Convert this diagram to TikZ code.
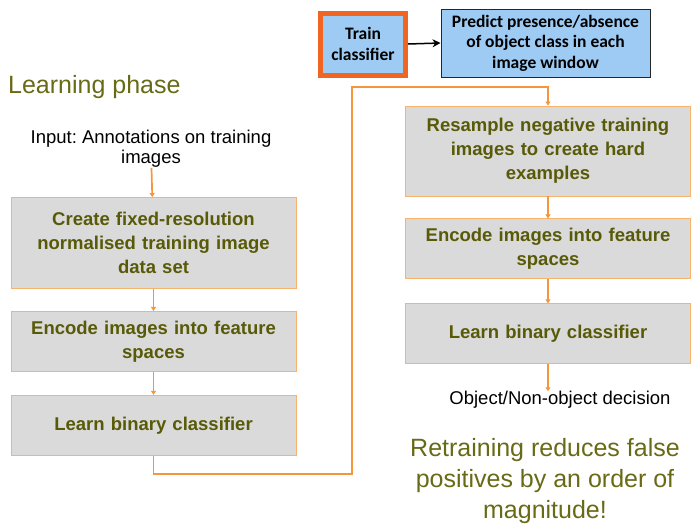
\documentclass[tikz,border=0pt]{standalone}
\usepackage{fontspec}
\setmainfont{Liberation Sans}
\newfontfamily\calibrifont{Carlito}
\usepackage{xcolor}
\usetikzlibrary{positioning, arrows.meta, calc}

\definecolor{oliveText}{RGB}{88,90,8}
\definecolor{oliveHead}{RGB}{104,106,22}
\definecolor{flowOrange}{RGB}{246,150,60}
\definecolor{boxOrange}{RGB}{247,178,110}
\definecolor{hotOrange}{RGB}{241,101,34}
\definecolor{skyFill}{RGB}{157,203,244}
\definecolor{stepGray}{RGB}{218,218,218}

\frenchspacing
\begin{document}
\begin{tikzpicture}[
	x=1pt, y=-1pt,
	% --- Styles ---
	stepbox/.style={
		rectangle, draw=boxOrange, line width=0.9pt, fill=stepGray,
		minimum width=285pt, text width=278pt, align=center, inner sep=0pt,
		font=\fontsize{18.5}{24}\selectfont\bfseries, text=oliveText
	},
	bluebox/.style={
		rectangle, fill=skyFill, align=center, inner sep=0pt,
		font=\calibrifont\fontsize{17.5}{20.5}\selectfont\bfseries
	},
	plaintext/.style={
		align=center, inner sep=0pt, font=\fontsize{18.5}{20}\selectfont
	},
	headtext/.style={
		align=center, inner sep=0pt, font=\fontsize{25}{31}\selectfont, text=oliveHead
	},
	flow/.style={
		draw=flowOrange, line width=1.7pt, -{Triangle[width=5pt,length=4pt]}
	}
	]
	\useasboundingbox (0,0) rectangle (691,523);

	% --- 1. Top blue boxes ---
	\node [bluebox, draw=hotOrange, line width=5pt, minimum width=85pt, minimum height=62pt] (train) at (363,44) {Train\\classifier};
	\node [bluebox, draw=black!85, line width=1pt, minimum width=209pt, minimum height=68pt] (predict) at (545.5,43) {Predict presence/absence\\of object class in each\\image window};
	\draw [-{Stealth[length=8pt,width=8pt]}, line width=1.5pt] (train.east) -- (predict.west);

	% --- 2. Learning phase (left column) ---
	\node [headtext, anchor=west] (phase) at (8,87) {Learning phase};
	\node [plaintext] (input) at (151,149) {Input: Annotations on training\\images};

	\node [stepbox, minimum height=91pt] (create) at (153.5,243) {Create fixed-resolution\\normalised training image\\data set};
	\node [stepbox, minimum height=60pt, below=22pt of create] (encode) {Encode images into feature\\spaces};
	\node [stepbox, minimum height=60pt, below=23pt of encode] (learn) {Learn binary classifier};

	\draw [flow] (input) -- (create);
	\draw [flow] (create) -- (encode);
	\draw [flow] (encode) -- (learn);

	% --- 3. Retraining (right column) ---
	\node [stepbox, minimum height=90pt] (resample) at (548,151) {Resample negative training\\images to create hard\\examples};
	\node [stepbox, minimum height=60pt, below=22pt of resample] (encode2) {Encode images into feature\\spaces};
	\node [stepbox, minimum height=60pt, below=24pt of encode2] (learn2) {Learn binary classifier};
	\node [plaintext, below=27pt of learn2, xshift=12pt] (decision) {Object/Non-object decision};

	\draw [flow] (resample) -- (encode2);
	\draw [flow] (encode2) -- (learn2);
	\draw [flow] (learn2.south) -- (learn2.south |- decision.north);

	% loop from left column back to the top of the right one
	\coordinate (loop_top) at (352,87);
	\draw [flow] (learn.south) -- ++(0,18) -| (loop_top) -| (resample.north);

	% --- 4. Closing remark ---
	\node [headtext] (remark) at (545,481) {Retraining reduces false\\positives by an order of\\magnitude!};

\end{tikzpicture}
\end{document}
